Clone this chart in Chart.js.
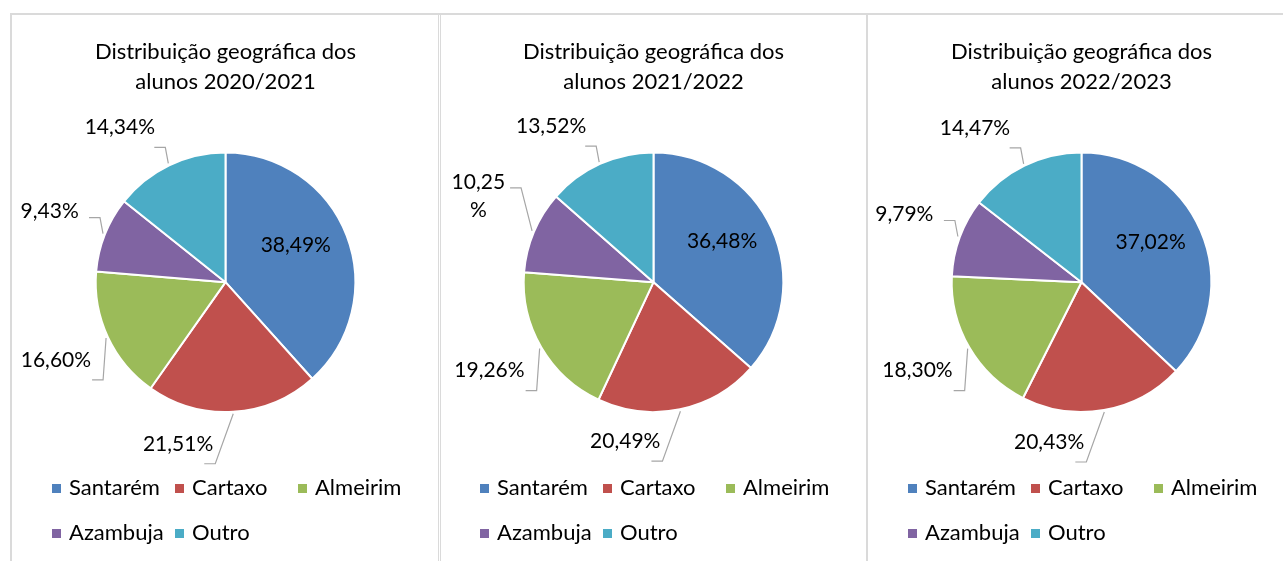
<!DOCTYPE html>
<html>
<head>
<meta charset="utf-8">
<title>Distribuição geográfica dos alunos</title>
<script src="https://cdn.jsdelivr.net/npm/chart.js@4.4.0/dist/chart.umd.min.js"></script>
<style>
  body { margin: 0; background: #fff; width: 1283px; height: 561px; overflow: hidden; position: relative; }
  .line { position: absolute; background: #dadada; }
  canvas { position: absolute; top: 15px; }
</style>
</head>
<body>
<div class="line" style="left:10px; top:13px; width:1273px; height:2px;"></div>
<div class="line" style="left:10px; top:13px; width:2px; height:548px;"></div>
<div class="line" style="left:438px; top:13px; width:1px; height:548px;"></div>
<div class="line" style="left:440px; top:13px; width:1px; height:548px;"></div>
<div class="line" style="left:866px; top:13px; width:2px; height:548px;"></div>
<canvas id="c1" width="427" height="546" style="left:12px"></canvas>
<canvas id="c2" width="427" height="546" style="left:440px"></canvas>
<canvas id="c3" width="427" height="546" style="left:868px"></canvas>
<script>
// data
const categories = ['Santarém', 'Cartaxo', 'Almeirim', 'Azambuja', 'Outro'];
const years = ['2020/2021', '2021/2022', '2022/2023'];
const share2020 = [38.49, 21.51, 16.60, 9.43, 14.34];
const share2021 = [36.48, 20.49, 19.26, 10.25, 13.52];
const share2022 = [37.02, 20.43, 18.30, 9.79, 14.47];
const colors = ['#4F81BD', '#C0504D', '#9BBB59', '#8064A2', '#4BACC6'];

Chart.defaults.font.family = 'Lato';

function fmt(v) {
  return v.toFixed(2).replace('.', ',') + '%';
}

// data labels with leader lines, roughly like Excel "best fit"
const pieLabels = {
  id: 'pieLabels',
  afterDatasetsDraw(chart) {
    const ctx = chart.ctx;
    const meta = chart.getDatasetMeta(0);
    const values = chart.data.datasets[0].data;
    const total = values.reduce((a, b) => a + b, 0);
    ctx.save();
    ctx.font = '21px Lato';
    ctx.fillStyle = '#000';
    ctx.strokeStyle = '#a6a6a6';
    ctx.lineWidth = 1.2;
    ctx.textBaseline = 'middle';
    meta.data.forEach((arc, i) => {
      const p = arc.getProps(['x', 'y', 'startAngle', 'endAngle', 'outerRadius']);
      const mid = (p.startAngle + p.endAngle) / 2;
      const dx = Math.cos(mid), dy = Math.sin(mid);
      const r = p.outerRadius;
      const text = fmt(values[i]);
      if (values[i] / total > 0.3) {
        ctx.textAlign = 'center';
        ctx.fillText(text, p.x + dx * r * 0.58, p.y + dy * r * 0.58 - 10);
        return;
      }
      const ex = p.x + dx * (r + 2), ey = p.y + dy * (r + 2);
      const w = ctx.measureText(text).width;
      let kx, ky, right, cy, wrap = false;
      if (dy < 0) {
        kx = ex - 3; ky = ey - 16;
        right = kx - 0.8 + 22 * dx;
        cy = ky + 2.3 + 24.5 * dy;
        if (right - w < 4) {
          // not enough room: Excel wraps before the % sign
          wrap = true;
          kx = ex - 11; ky = ey - 43;
          right = kx - 16; cy = ky + 8;
        }
      } else if (dx < -0.5) {
        kx = ex - 3; ky = ey + 42;
        right = kx - 12; cy = ky - 20;
      } else {
        kx = ex - 18; ky = ey + 50;
        right = kx - 2; cy = ky - 20;
      }
      ctx.beginPath();
      ctx.moveTo(ex, ey);
      ctx.lineTo(kx, ky);
      ctx.lineTo(kx - 11, ky);
      ctx.stroke();

      if (wrap) {
        const lines = [text.slice(0, -1), '%'];
        const bw = Math.max(...lines.map(t => ctx.measureText(t).width));
        ctx.textAlign = 'center';
        ctx.fillText(lines[0], right - bw / 2, cy - 14);
        ctx.fillText(lines[1], right - bw / 2, cy + 14);
      } else {
        ctx.textAlign = 'right';
        ctx.fillText(text, right, cy);
      }
    });
    ctx.restore();
  }
};

// legend laid out in fixed columns
const gridLegend = {
  id: 'gridLegend',
  afterDraw(chart) {
    const ctx = chart.ctx;
    const ds = chart.data.datasets[0];
    ctx.save();
    ctx.font = '22px Lato';
    ctx.textBaseline = 'middle';
    ctx.textAlign = 'left';
    chart.data.labels.forEach((label, i) => {
      const col = i % 3, row = Math.floor(i / 3);
      const x = 40 + col * 123, y = 473 + row * 45;
      ctx.fillStyle = ds.backgroundColor[i];
      ctx.fillRect(x, y - 4, 9, 9);
      ctx.fillStyle = '#000';
      ctx.fillText(label, x + 17, y);
    });
    ctx.restore();
  }
};

function makePie(id, year, values) {
  return new Chart(document.getElementById(id), {
    type: 'pie',
    data: {
      labels: categories,
      datasets: [{
        data: values,
        backgroundColor: colors,
        borderColor: '#fff',
        borderWidth: 2
      }]
    },
    options: {
      responsive: false,
      animation: false,
      layout: { padding: { left: 82.5, right: 82.5, top: 0, bottom: 148 } },
      plugins: {
        legend: { display: false },
        tooltip: { enabled: false },
        title: {
          display: true,
          text: ['Distribuição geográfica dos', 'alunos ' + year],
          color: '#000',
          font: { family: 'Lato', size: 22, weight: 'normal', lineHeight: 1.35 },
          padding: { top: 22, bottom: 55 }
        }
      }
    },
    plugins: [pieLabels, gridLegend]
  });
}

makePie('c1', years[0], share2020);
makePie('c2', years[1], share2021);
makePie('c3', years[2], share2022);
</script>
</body>
</html>
